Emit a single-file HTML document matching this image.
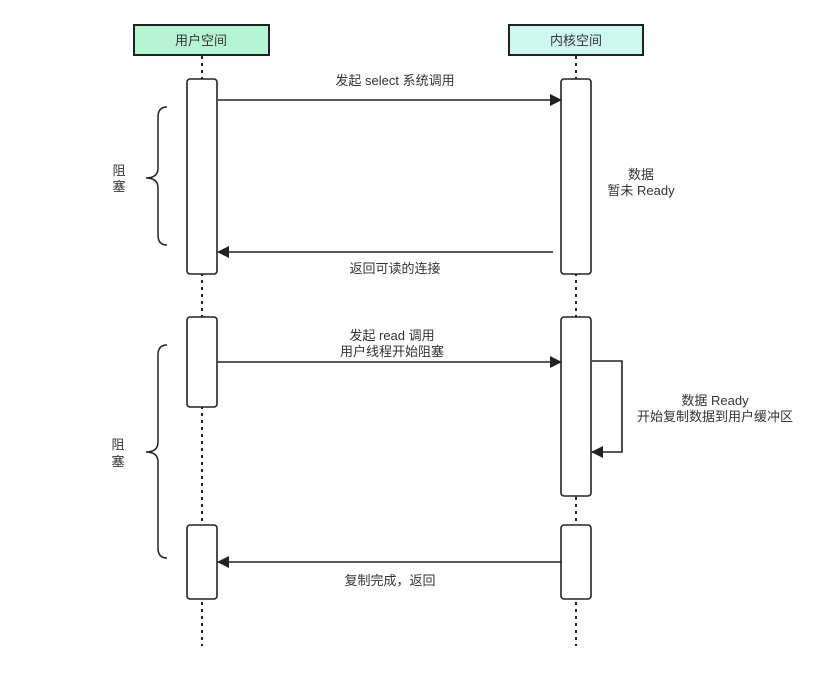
<!DOCTYPE html>
<html><head><meta charset="utf-8"><style>
html,body{margin:0;padding:0;background:#fff;}
svg text{font-family:"Liberation Sans","Noto Sans CJK SC",sans-serif;font-size:13px;fill:#333;}
</style></head><body>
<svg width="826" height="674" viewBox="0 0 826 674" xmlns="http://www.w3.org/2000/svg">
<defs><marker id="ah" markerWidth="12" markerHeight="12" refX="11" refY="6" orient="auto" markerUnits="userSpaceOnUse"><path d="M0,0 L12,6 L0,12 z" fill="#222"/></marker></defs>
<g stroke="#222" stroke-width="2" stroke-dasharray="3,4">
<line x1="202" y1="56" x2="202" y2="646"/>
<line x1="576" y1="56" x2="576" y2="646"/>
</g>
<g>
<rect x="134" y="25" width="135" height="30" fill="#b5f5d3" stroke="#222" stroke-width="2"/>
<text x="201" y="45" text-anchor="middle">用户空间</text></g>
<g>
<rect x="509" y="25" width="134" height="30" fill="#cdf8ee" stroke="#222" stroke-width="2"/>
<text x="576" y="45" text-anchor="middle">内核空间</text></g>
<g fill="#fff" stroke="#222" stroke-width="1.6">
<rect x="187" y="79" width="30" height="195" rx="3"/>
<rect x="187" y="317" width="30" height="90" rx="3"/>
<rect x="187" y="525" width="30" height="74" rx="3"/>
<rect x="561" y="79" width="30" height="195" rx="3"/>
<rect x="561" y="317" width="30" height="179" rx="3"/>
<rect x="561" y="525" width="30" height="74" rx="3"/>
</g>
<g stroke="#222" stroke-width="1.6" fill="none">
<line x1="218" y1="100" x2="561" y2="100" marker-end="url(#ah)"/>
<line x1="553" y1="252" x2="218" y2="252" marker-end="url(#ah)"/>
<line x1="218" y1="362" x2="561" y2="362" marker-end="url(#ah)"/>
<polyline points="592,361 622,361 622,452 592,452" marker-end="url(#ah)"/>
<line x1="561" y1="562" x2="218" y2="562" marker-end="url(#ah)"/>
</g>
<g stroke="#222" stroke-width="1.5" fill="none">
<path d="M167,107 Q158,107 158,117 L158,168 Q158,178 146,178 Q158,178 158,188 L158,235 Q158,245 167,245"/>
<path d="M167,345 Q158,345 158,355 L158,442 Q158,452 146,452 Q158,452 158,462 L158,548 Q158,558 167,558"/>
</g>
<text x="119" y="175" text-anchor="middle">阻</text>
<text x="119" y="191" text-anchor="middle">塞</text>
<text x="118" y="449" text-anchor="middle">阻</text>
<text x="118" y="466" text-anchor="middle">塞</text>
<text x="395" y="85" text-anchor="middle">发起 select 系统调用</text>
<text x="641" y="179" text-anchor="middle">数据</text>
<text x="641" y="195" text-anchor="middle">暂未 Ready</text>
<text x="395" y="273" text-anchor="middle">返回可读的连接</text>
<text x="392" y="340" text-anchor="middle">发起 read 调用</text>
<text x="392" y="356" text-anchor="middle">用户线程开始阻塞</text>
<text x="715" y="405" text-anchor="middle">数据 Ready</text>
<text x="715" y="421" text-anchor="middle">开始复制数据到用户缓冲区</text>
<text x="390" y="585" text-anchor="middle">复制完成，返回</text>
</svg>
</body></html>
